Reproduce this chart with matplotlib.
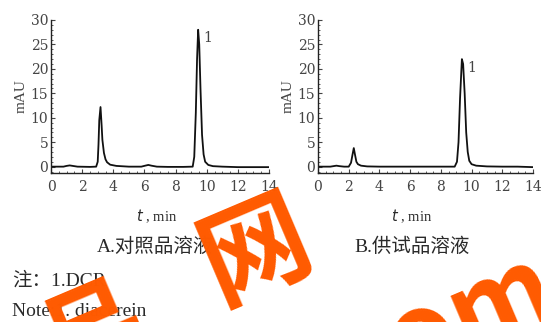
import matplotlib.pyplot as plt
from matplotlib.ticker import MultipleLocator

# chromatogram A: reference solution (time in min, absorbance in mAU)
t_a = [0, 0.8, 1.0, 1.2, 1.4, 1.7, 2.5, 2.9, 3.0, 3.05, 3.1, 3.18, 3.25, 3.3, 3.4,
       3.5, 3.6, 3.8, 4.2, 5.0, 5.8, 6.05, 6.25, 6.45, 6.8, 7.5, 8.5, 9.1, 9.2, 9.3,
       9.38, 9.45, 9.52, 9.6, 9.7, 9.8, 9.9, 10.1, 10.4, 11, 12, 13, 14]
mau_a = [0, 0, 0.15, 0.25, 0.15, 0, -0.05, 0, 1.0, 4.5, 9.5, 12.2, 8.5, 5.5, 2.8,
         1.5, 0.9, 0.4, 0.15, 0, 0, 0.2, 0.35, 0.2, 0, -0.05, -0.05, 0, 2.0, 11,
         22, 28, 25, 16, 6.5, 2.5, 1.0, 0.35, 0.1, 0, -0.1, -0.1, -0.1]

# chromatogram B: sample solution
t_b = [0, 0.8, 1.0, 1.2, 1.4, 1.7, 2.0, 2.15, 2.25, 2.33, 2.4, 2.5, 2.6, 2.8, 3.2,
       4, 6, 8, 8.9, 9.05, 9.15, 9.25, 9.37, 9.45, 9.55, 9.65, 9.75, 9.85, 10.0,
       10.3, 11, 12, 13, 14]
mau_b = [0, 0, 0.1, 0.2, 0.1, 0, 0, 0.8, 2.5, 3.8, 2.6, 1.0, 0.5, 0.2, 0.05,
         0, 0, 0, 0, 1.0, 5, 14, 22, 21, 15, 7, 3, 1.2, 0.5,
         0.2, 0.05, 0, 0, -0.1]

peak_label = '1'
captions = ['A.对照品溶液', 'B.供试品溶液']
note_cn = '注：1.DCR'
note_en = 'Note:1. diacerein'

serif = ['Liberation Serif', 'Noto Sans CJK SC']
grey = '#444444'
dark = '#2a2a2a'

fig = plt.figure(figsize=(5.41, 3.22), dpi=100)
ax_a = fig.add_axes([51/541, 1 - 173/322, 218/541, 153/322])
ax_b = fig.add_axes([318/541, 1 - 173/322, 215/541, 153/322])

for ax, t, y in [(ax_a, t_a, mau_a), (ax_b, t_b, mau_b)]:
    ax.plot(t, y, color='#111111', lw=1.3)
    ax.set_xlim(0, 14)
    ax.set_ylim(-1.3, 30)
    ax.set_xticks(range(0, 15, 2))
    ax.set_yticks(range(0, 31, 5))
    ax.xaxis.set_minor_locator(MultipleLocator(0.5))
    ax.yaxis.set_minor_locator(MultipleLocator(1))
    ax.tick_params(which='both', direction='in', color=grey, labelcolor=grey)
    ax.tick_params(axis='x', which='major', length=3, pad=5, labelsize=10)
    ax.tick_params(axis='y', which='major', length=3, pad=2, labelsize=10)
    ax.tick_params(which='minor', length=1.5)
    for lab in ax.get_xticklabels() + ax.get_yticklabels():
        lab.set_family('DejaVu Serif')
    for s in ['top', 'right']:
        ax.spines[s].set_visible(False)
    for s in ['left', 'bottom']:
        ax.spines[s].set_color('#222222')
        ax.spines[s].set_linewidth(1.0)
    ax.set_ylabel('mAU', family=serif, fontsize=11, color=grey, labelpad=2)
    # label the main peak
    i = y.index(max(y))
    ax.text(t[i] + 0.35, y[i] - 0.3, peak_label, family='DejaVu Serif', fontsize=10,
            color=grey, va='top', ha='left')

# x axis titles and captions
for xc in [157/541, 412/541]:
    fig.text(xc, 1 - 216/322, r'$\it{t}$ , min', family=serif, fontsize=10.5,
             color=dark, ha='center', va='center')
fig.text(155/541, 1 - 247/322, captions[0], family=serif, fontsize=14,
         color=dark, ha='center', va='center')
fig.text(412/541, 1 - 247/322, captions[1], family=serif, fontsize=14,
         color=dark, ha='center', va='center')
fig.text(12/541, 1 - 281/322, note_cn, family=serif, fontsize=14,
         color=dark, ha='left', va='center')
fig.text(12/541, 1 - 312/322, note_en, family=serif, fontsize=14,
         color=dark, ha='left', va='center')

# orange watermark overlay (partly outside the figure, as in the source)
wm = '#ff5a00'
fig.text(95/541, 1 - 338/322, '品', family='Noto Sans CJK SC', fontweight='bold',
         fontsize=78, color=wm, rotation=23, ha='center', va='center')
fig.text(256/541, 1 - 252/322, '网', family='Noto Sans CJK SC', fontweight='bold',
         fontsize=78, color=wm, rotation=23, ha='center', va='center')
fig.text(445/541, 1 - 328/322, 'com', family='Noto Sans CJK SC', fontweight='bold',
         fontsize=78, color=wm, rotation=23, ha='center', va='center')

fig.savefig('out.png', dpi=100)
